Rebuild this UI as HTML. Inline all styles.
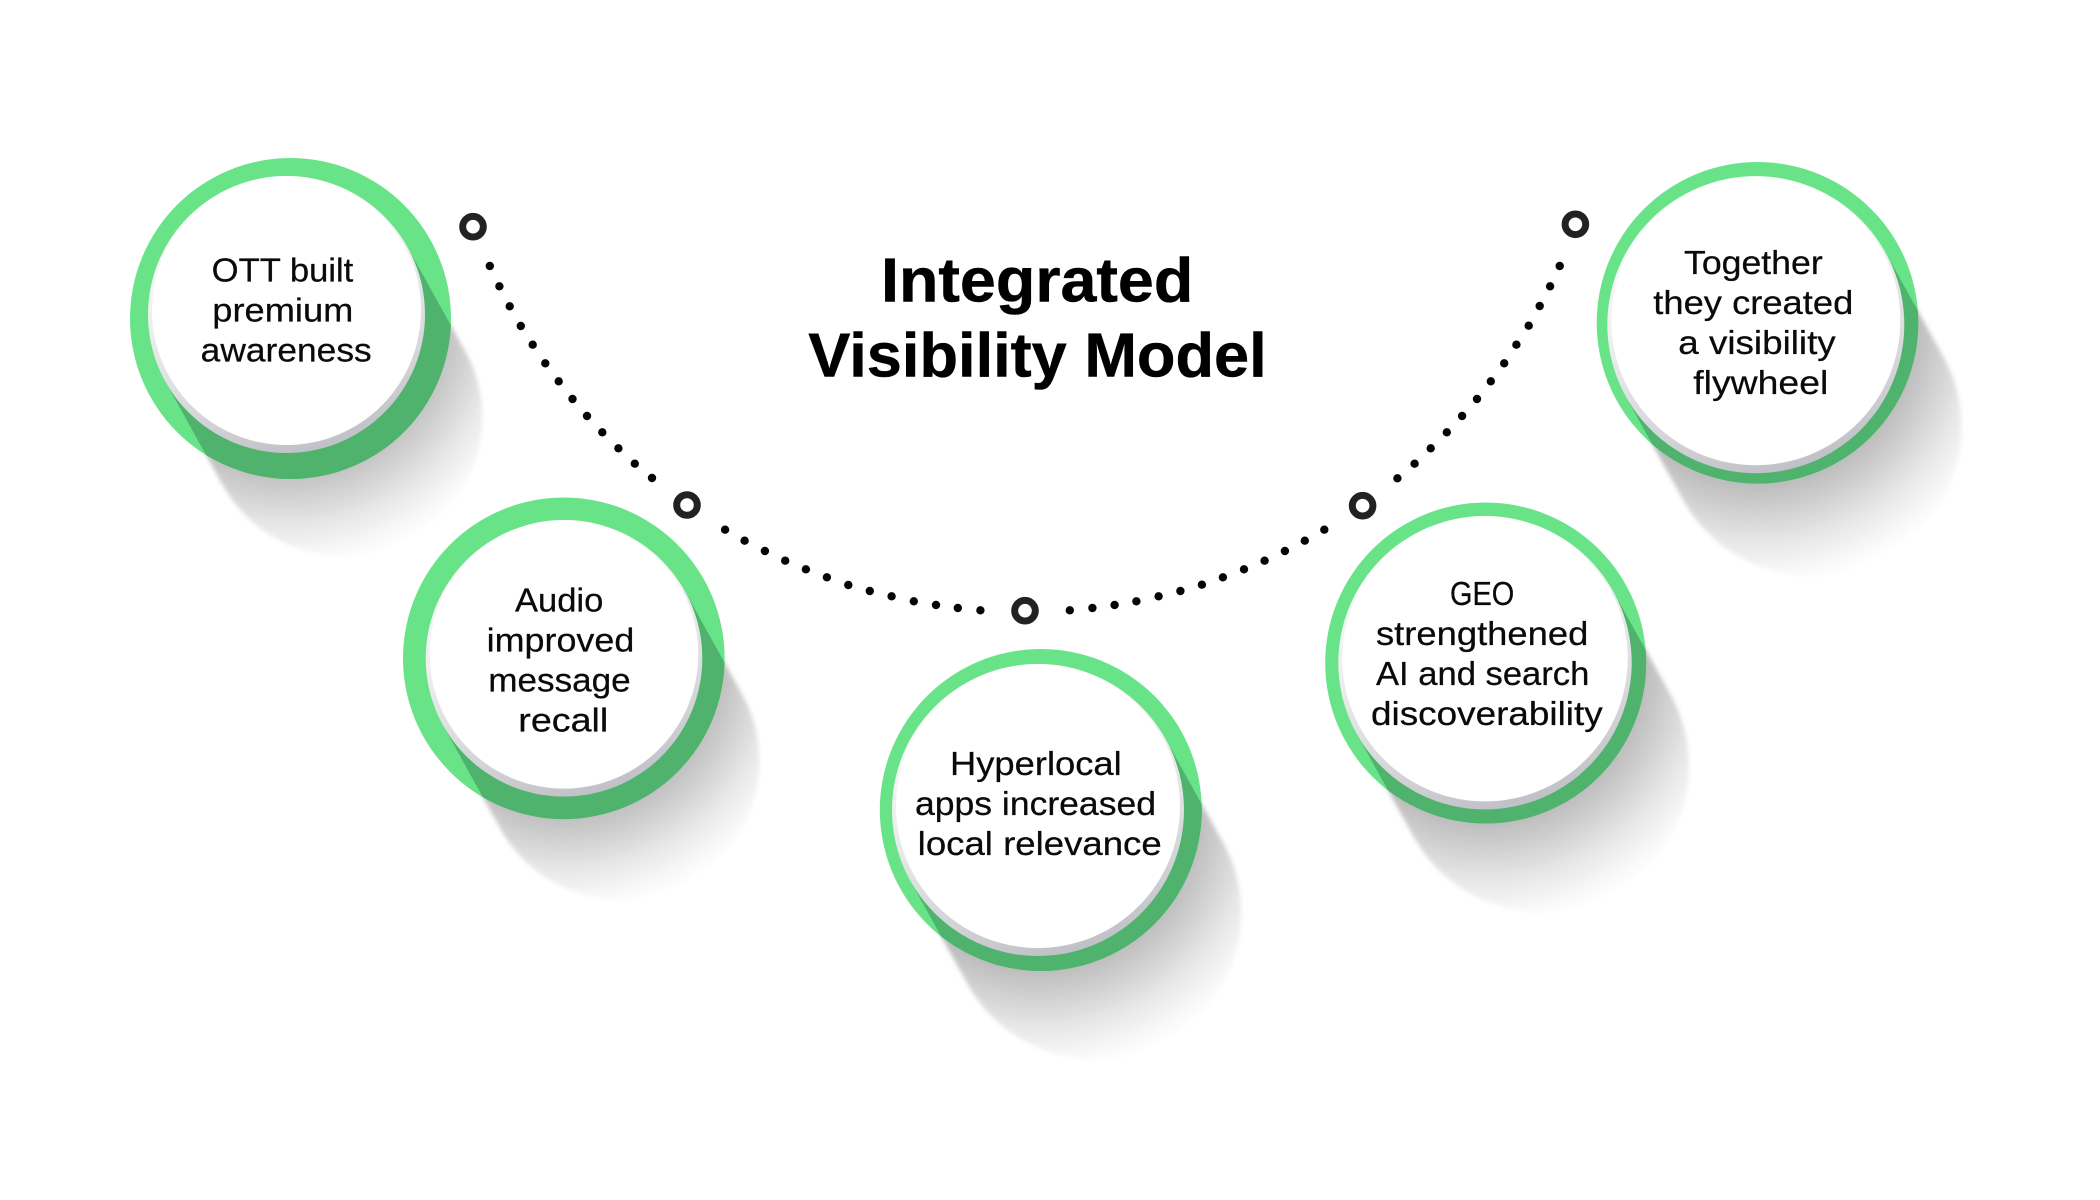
<!DOCTYPE html>
<html>
<head>
<meta charset="utf-8">
<title>Integrated Visibility Model</title>
<style>
html,body{margin:0;padding:0;background:#fff;width:2100px;height:1200px;overflow:hidden}
svg{display:block}
.t{font-family:"Liberation Sans",sans-serif;font-size:33px;fill:#0a0a0a;stroke:#0a0a0a;stroke-width:.25}
.h{font-family:"Liberation Sans",sans-serif;font-size:62px;font-weight:700;fill:#000;stroke:#000;stroke-width:.5}
</style>
</head>
<body>
<svg width="2100" height="1200" viewBox="0 0 2100 1200" xmlns="http://www.w3.org/2000/svg">
<defs>
<radialGradient id="sg">
<stop offset="0" stop-color="#b8b8b8"/>
<stop offset=".6" stop-color="#bcbcbc"/>
<stop offset=".7" stop-color="#cfcfcf"/>
<stop offset=".82" stop-color="#e6e6e6"/>
<stop offset=".93" stop-color="#f7f7f7"/>
<stop offset="1" stop-color="#fff"/>
</radialGradient>
<radialGradient id="s1" href="#sg" gradientUnits="userSpaceOnUse" cx="0" cy="0" r="256"/>
<radialGradient id="s3" href="#sg" gradientUnits="userSpaceOnUse" cx="0" cy="0" r="264"/>
<linearGradient id="rim" x1=".3" y1="0" x2=".6" y2="1">
<stop offset="0" stop-color="#fff"/>
<stop offset=".45" stop-color="#eceded"/>
<stop offset=".8" stop-color="#d2d3d6"/>
<stop offset="1" stop-color="#bfc0c6"/>
</linearGradient>
<filter id="b" x="-20%" y="-20%" width="140%" height="140%"><feGaussianBlur stdDeviation="2"/></filter>
<clipPath id="c1"><circle cx="290.5" cy="318.5" r="160.5"/></clipPath>
<clipPath id="c2"><circle cx="563.8" cy="658.3" r="160.8"/></clipPath>
<clipPath id="c3"><circle cx="1040.8" cy="810" r="161"/></clipPath>
<clipPath id="c4"><circle cx="1485.7" cy="663" r="160.5"/></clipPath>
<clipPath id="c5"><circle cx="1757.5" cy="322.8" r="160.8"/></clipPath>
</defs>

<!-- long shadows: sweep of the inner disc -->
<g filter="url(#b)">
<path transform="translate(286.5,314.5) rotate(61)" d="M0,-138.5H118A138.5,138.5 0 0 1 118,138.5H0Z" fill="url(#s1)"/>
<path transform="translate(564,658.3) rotate(61)" d="M0,-138.3H118A138.3,138.3 0 0 1 118,138.3H0Z" fill="url(#s1)"/>
<path transform="translate(1038,810) rotate(61)" d="M0,-146H118A146,146 0 0 1 118,146H0Z" fill="url(#s3)"/>
<path transform="translate(1485,662.7) rotate(61)" d="M0,-146.7H118A146.7,146.7 0 0 1 118,146.7H0Z" fill="url(#s3)"/>
<path transform="translate(1755.8,324.7) rotate(61)" d="M0,-148.5H118A148.5,148.5 0 0 1 118,148.5H0Z" fill="url(#s3)"/>
</g>

<!-- circle 1 -->
<circle cx="290.5" cy="318.5" r="160.5" fill="#68e388"/>
<g clip-path="url(#c1)"><path transform="translate(286.5,314.5) rotate(61)" d="M0,-138.5H400V138.5H0Z" fill="#4fb26d"/></g>
<circle cx="286.5" cy="314.5" r="138.5" fill="url(#rim)"/>
<circle cx="286.5" cy="310.5" r="134.5" fill="#fff"/>

<!-- circle 2 -->
<circle cx="563.8" cy="658.3" r="160.8" fill="#68e388"/>
<g clip-path="url(#c2)"><path transform="translate(564,658.3) rotate(61)" d="M0,-138.3H400V138.3H0Z" fill="#4fb26d"/></g>
<circle cx="564" cy="658.3" r="138.3" fill="url(#rim)"/>
<circle cx="564" cy="654.3" r="134.3" fill="#fff"/>

<!-- circle 3 -->
<circle cx="1040.8" cy="810" r="161" fill="#68e388"/>
<g clip-path="url(#c3)"><path transform="translate(1038,810) rotate(61)" d="M0,-146H400V146H0Z" fill="#4fb26d"/></g>
<circle cx="1038" cy="810" r="146" fill="url(#rim)"/>
<circle cx="1038" cy="806" r="142" fill="#fff"/>

<!-- circle 4 -->
<circle cx="1485.7" cy="663" r="160.5" fill="#68e388"/>
<g clip-path="url(#c4)"><path transform="translate(1485,662.7) rotate(61)" d="M0,-146.7H400V146.7H0Z" fill="#4fb26d"/></g>
<circle cx="1485" cy="662.7" r="146.7" fill="url(#rim)"/>
<circle cx="1485" cy="658.7" r="142.7" fill="#fff"/>

<!-- circle 5 -->
<circle cx="1757.5" cy="322.8" r="160.8" fill="#68e388"/>
<g clip-path="url(#c5)"><path transform="translate(1755.8,324.7) rotate(61)" d="M0,-148.5H400V148.5H0Z" fill="#4fb26d"/></g>
<circle cx="1755.8" cy="324.7" r="148.5" fill="url(#rim)"/>
<circle cx="1755.8" cy="320.7" r="144.5" fill="#fff"/>

<!-- dotted arc -->
<g fill="#050505">
<circle cx="489.8" cy="266" r="4.2"/><circle cx="499.4" cy="286.3" r="4.2"/><circle cx="509.7" cy="306.3" r="4.2"/><circle cx="520.8" cy="326" r="4.2"/><circle cx="532.7" cy="344.7" r="4.2"/><circle cx="545.3" cy="363.3" r="4.2"/><circle cx="558.7" cy="381.3" r="4.2"/><circle cx="572.5" cy="399" r="4.2"/><circle cx="587" cy="416" r="4.2"/><circle cx="602.3" cy="432.3" r="4.2"/><circle cx="618.4" cy="448.3" r="4.2"/><circle cx="634.8" cy="463.7" r="4.2"/><circle cx="652" cy="478" r="4.2"/>
<circle cx="725.1" cy="529.7" r="4.2"/><circle cx="744.6" cy="540.7" r="4.2"/><circle cx="764.9" cy="551" r="4.2"/><circle cx="785.2" cy="560.7" r="4.2"/><circle cx="805.9" cy="569.3" r="4.2"/><circle cx="826.9" cy="577.3" r="4.2"/><circle cx="848.3" cy="585" r="4.2"/><circle cx="869.8" cy="591" r="4.2"/><circle cx="891.6" cy="596.3" r="4.2"/><circle cx="913.8" cy="601.3" r="4.2"/><circle cx="936" cy="605" r="4.2"/><circle cx="957.8" cy="608" r="4.2"/><circle cx="980.4" cy="610.3" r="4.2"/>
<circle cx="1069.8" cy="610.3" r="4.2"/><circle cx="1092.4" cy="608" r="4.2"/><circle cx="1114.6" cy="605" r="4.2"/><circle cx="1136.4" cy="601.3" r="4.2"/><circle cx="1158.6" cy="596.3" r="4.2"/><circle cx="1180.4" cy="591" r="4.2"/><circle cx="1201.9" cy="584.7" r="4.2"/><circle cx="1222.9" cy="577.3" r="4.2"/><circle cx="1244" cy="569.3" r="4.2"/><circle cx="1264.6" cy="560.7" r="4.2"/><circle cx="1284.9" cy="551" r="4.2"/><circle cx="1304.8" cy="540.7" r="4.2"/><circle cx="1324.3" cy="529.7" r="4.2"/>
<circle cx="1397.4" cy="478.3" r="4.2"/><circle cx="1414.6" cy="463.7" r="4.2"/><circle cx="1430.7" cy="448.3" r="4.2"/><circle cx="1446.8" cy="432.3" r="4.2"/><circle cx="1462.1" cy="416" r="4.2"/><circle cx="1477" cy="399" r="4.2"/><circle cx="1490.8" cy="381.3" r="4.2"/><circle cx="1504.2" cy="363.3" r="4.2"/><circle cx="1516.4" cy="344.7" r="4.2"/><circle cx="1528.7" cy="325.7" r="4.2"/><circle cx="1539.7" cy="306" r="4.2"/><circle cx="1550.1" cy="286.3" r="4.2"/><circle cx="1559.7" cy="266" r="4.2"/>
</g>

<!-- ring nodes -->
<g fill="#fff" stroke="#222" stroke-width="7">
<circle cx="473" cy="226.7" r="10.3"/>
<circle cx="687" cy="505" r="10.3"/>
<circle cx="1025" cy="610.7" r="10.3"/>
<circle cx="1362.6" cy="505.7" r="10.3"/>
<circle cx="1575.4" cy="224.3" r="10.3"/>
</g>

<!-- title -->
<text class="h" x="881" y="301.7" textLength="312.3" lengthAdjust="spacingAndGlyphs">Integrated</text>
<text class="h" x="808.3" y="376.7" textLength="458.4" lengthAdjust="spacingAndGlyphs">Visibility Model</text>

<!-- labels -->
<text class="t" x="211.7" y="281.7" textLength="141.6" lengthAdjust="spacingAndGlyphs">OTT built</text>
<text class="t" x="212.3" y="321.7" textLength="141" lengthAdjust="spacingAndGlyphs">premium</text>
<text class="t" x="200.7" y="361.7" textLength="171" lengthAdjust="spacingAndGlyphs">awareness</text>

<text class="t" x="515" y="611.7" textLength="88.3" lengthAdjust="spacingAndGlyphs">Audio</text>
<text class="t" x="486.7" y="651.7" textLength="147.6" lengthAdjust="spacingAndGlyphs">improved</text>
<text class="t" x="488.3" y="691.7" textLength="142.4" lengthAdjust="spacingAndGlyphs">message</text>
<text class="t" x="518.3" y="731.7" textLength="90" lengthAdjust="spacingAndGlyphs">recall</text>

<text class="t" x="950" y="775" textLength="171.7" lengthAdjust="spacingAndGlyphs">Hyperlocal</text>
<text class="t" x="915" y="815" textLength="241" lengthAdjust="spacingAndGlyphs">apps increased</text>
<text class="t" x="917.7" y="855" textLength="244" lengthAdjust="spacingAndGlyphs">local relevance</text>

<text class="t" x="1450" y="605" textLength="64.3" lengthAdjust="spacingAndGlyphs">GEO</text>
<text class="t" x="1376" y="645" textLength="212.3" lengthAdjust="spacingAndGlyphs">strengthened</text>
<text class="t" x="1376" y="685" textLength="213.3" lengthAdjust="spacingAndGlyphs">AI and search</text>
<text class="t" x="1371" y="725" textLength="231.7" lengthAdjust="spacingAndGlyphs">discoverability</text>

<text class="t" x="1684" y="274" textLength="138.7" lengthAdjust="spacingAndGlyphs">Together</text>
<text class="t" x="1653.3" y="314" textLength="200" lengthAdjust="spacingAndGlyphs">they created</text>
<text class="t" x="1678.3" y="354" textLength="157.4" lengthAdjust="spacingAndGlyphs">a visibility</text>
<text class="t" x="1693.3" y="394" textLength="135" lengthAdjust="spacingAndGlyphs">flywheel</text>
</svg>
</body>
</html>
